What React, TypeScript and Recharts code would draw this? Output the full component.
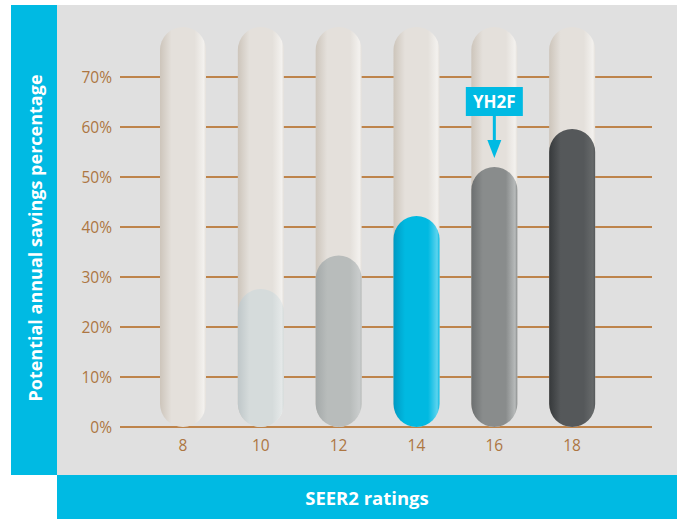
import { BarChart, Bar, XAxis, YAxis, CartesianGrid, Cell, LabelList } from 'recharts';

const ratings = ['8', '10', '12', '14', '16', '18'];
const savings = [0, 27.6, 34.3, 42.2, 52, 59.6];
const track = [80, 80, 80, 80, 80, 80];
const callouts = ['', '', '', '', 'YH2F', ''];
const yTicks = [0, 10, 20, 30, 40, 50, 60, 70];
const yMax = 80;

const data = ratings.map((r, i) => ({ rating: r, savings: savings[i], track: track[i], callout: callouts[i] }));

const blue = '#00bae3';
const brown = '#ad7642';
const gridBrown = '#b3661a';
const font = '"Open Sans", "Noto Sans", sans-serif';

// left-to-right shading for each bar: [edge, middle, highlight]
const shades = [
  ['#cfc9c1', '#e2dfda', '#f1efec'],
  ['#bfc7c9', '#d5dbdb', '#e4e8e8'],
  ['#a4a9a9', '#b8bcbb', '#c9cccc'],
  ['#0099c2', '#00b9e1', '#5cd3ee'],
  ['#6c6f70', '#898c8c', '#b7baba'],
  ['#36393b', '#55585a', '#66696a'],
];
const trackShade = ['#cdc5bb', '#e4e0db', '#f3f1ee'];

function Grad({ id, c }: { id: string; c: string[] }) {
  return (
    <linearGradient id={id} x1="0" y1="0" x2="1" y2="0">
      <stop offset="0%" stopColor={c[0]} />
      <stop offset="25%" stopColor={c[1]} />
      <stop offset="75%" stopColor={c[1]} />
      <stop offset="95%" stopColor={c[2]} />
      <stop offset="100%" stopColor={c[1]} />
    </linearGradient>
  );
}

function Callout(props: any) {
  const { x, y, width, value } = props;
  if (!value) return null;
  const cx = x + width / 2;
  const tip = y - 9;
  const boxBottom = y - 51;
  return (
    <g>
      <rect x={cx - 28.5} y={boxBottom - 29} width={57} height={29} fill={blue} />
      <text x={cx} y={boxBottom - 8.5} textAnchor="middle" fill="#fff" fontFamily={font} fontWeight={700} fontSize={17}>
        {value}
      </text>
      <rect x={cx - 1.5} y={boxBottom} width={3} height={25} fill={blue} />
      <polygon points={`${cx - 7},${tip - 18} ${cx + 7},${tip - 18} ${cx},${tip}`} fill={blue} />
    </g>
  );
}

// grid only at the labelled ticks (no line at the 80% top edge)
const gridLines = ({ offset }: any) => yTicks.map((t) => offset.top + offset.height * (1 - t / yMax));

export default function App() {
  return (
    <div style={{ position: 'absolute', left: 0, top: 0, width: 683, height: 519, background: '#fff', fontFamily: font }}>
      <div style={{ position: 'absolute', left: 57, top: 5, width: 620, height: 470, background: '#e0e0e0' }} />
      <div style={{ position: 'absolute', left: 11, top: 5, width: 46, height: 470, background: blue }} />
      <div
        style={{
          position: 'absolute',
          left: 57,
          top: 475,
          width: 620,
          height: 44,
          background: blue,
          color: '#fff',
          fontWeight: 700,
          fontSize: 18.5,
          display: 'flex',
          alignItems: 'center',
          justifyContent: 'center',
        }}
      >
        SEER2 ratings
      </div>
      <div
        style={{
          position: 'absolute',
          left: 35,
          top: 238,
          transform: 'translate(-50%, -50%) rotate(-90deg)',
          whiteSpace: 'nowrap',
          color: '#fff',
          fontWeight: 700,
          fontSize: 18,
        }}
      >
        Potential annual savings percentage
      </div>
      <div style={{ position: 'absolute', left: 0, top: 0 }}>
        <BarChart
          width={683}
          height={519}
          data={data}
          margin={{ top: 27, right: 31, bottom: 62, left: 60 }}
          barGap={-46}
        >
          <defs>
            <Grad id="track" c={trackShade} />
            {shades.map((c, i) => (
              <Grad key={i} id={`bar${i}`} c={c} />
            ))}
          </defs>
          <CartesianGrid
            vertical={false}
            stroke={gridBrown}
            strokeOpacity={1}
            strokeWidth={1.5}
            horizontalCoordinatesGenerator={gridLines}
          />
          <XAxis
            dataKey="rating"
            axisLine={false}
            tickLine={false}
            height={30}
            tickMargin={7}
            padding={{ left: 24, right: 41 }}
            tick={{ fill: brown, fontSize: 15.5, fontFamily: font }}
          />
          <YAxis
            width={60}
            domain={[0, yMax]}
            ticks={yTicks}
            axisLine={false}
            tickLine={false}
            tickFormatter={(v: number) => `${v}%`}
            tick={{ fill: brown, fontSize: 15.5, fontFamily: font }}
          />
          <Bar dataKey="track" barSize={46} radius={23} fill="url(#track)" isAnimationActive={false} />
          <Bar dataKey="savings" barSize={46} radius={23} isAnimationActive={false}>
            {data.map((_, i) => (
              <Cell key={i} fill={`url(#bar${i})`} />
            ))}
            <LabelList dataKey="callout" content={Callout} />
          </Bar>
        </BarChart>
      </div>
    </div>
  );
}
